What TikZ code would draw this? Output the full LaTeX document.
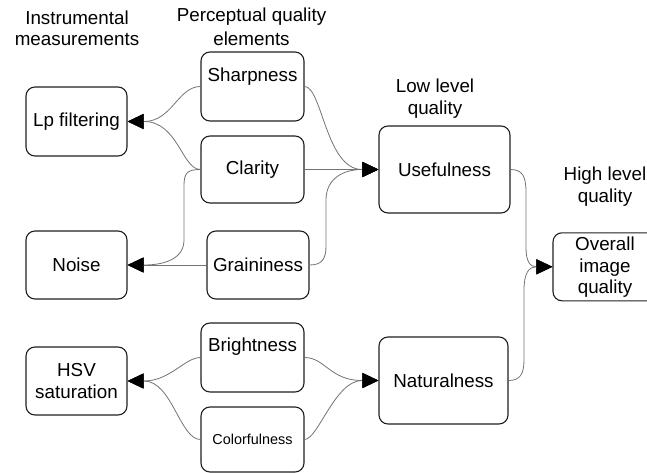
\documentclass[tikz,border=0pt]{standalone}
\usepackage{fontspec}
\setmainfont{Liberation Sans}
\usetikzlibrary{arrows.meta}
\begin{document}
\begin{tikzpicture}[x=1pt,y=-1pt,
  ff/.style={font=\fontsize{18.8}{21.5}\selectfont},
  box/.style={draw=black!88, line width=1.1pt, rounded corners=9pt, inner sep=0pt, align=center, ff},
  lbl/.style={inner sep=0pt, align=center, ff},
  conn/.style={draw=black!55, line width=0.8pt, -{Triangle[length=16pt,width=15pt,color=black]}},
  conn0/.style={draw=black!55, line width=0.8pt}
]
\useasboundingbox (0,0) rectangle (647,473);

% headers
\node[lbl, anchor=north] (h1) at (77,10.5) {Instrumental\\measurements};
\node[lbl, anchor=north] (h2) at (251.5,8) {Perceptual quality\\[2pt]elements};
\node[lbl, anchor=north] (h3) at (435,79) {Low level\\quality};
\node[lbl, anchor=north] (h4) at (605,167) {High level\\quality};

% instrumental
\node[box, minimum width=101pt, minimum height=69pt] (lp) at (76.5,121.5) {Lp filtering};
\node[box, minimum width=101pt, minimum height=68pt] (noise) at (76.5,265) {Noise};
\node[box, minimum width=101pt, minimum height=68pt] (hsv) at (76.5,381) {HSV\\saturation};

% perceptual
\node[box, minimum width=103pt, minimum height=69pt] (sharp) at (252.5,86.5) {};
\node[lbl, anchor=base] (sharpT) at (252.5,81.5) {Sharpness};
\node[box, minimum width=103pt, minimum height=67pt] (clar) at (252.5,169.5) {Clarity};
\node[box, minimum width=102pt, minimum height=68pt] (grain) at (258,265) {Graininess};
\node[box, minimum width=103pt, minimum height=69pt] (bright) at (252.5,357.5) {};
\node[lbl, anchor=base] (brightT) at (252.5,351) {Brightness};
\node[box, minimum width=103pt, minimum height=65pt, font=\fontsize{14.4}{17}\selectfont] (color) at (252.5,439.5) {Colorfulness};

% low level
\node[box, minimum width=131pt, minimum height=87pt] (use) at (444.5,169.5) {Usefulness};
\node[box, minimum width=129pt, minimum height=87pt] (nat) at (443.5,380.5) {Naturalness};

% high level
\node[box, minimum width=104pt, minimum height=68pt] (over) at (605,266.8) {};
\node[lbl, anchor=north] (overT) at (605,237) {Overall\\image\\quality};

% connectors to instrumental
\draw[conn] (sharp.west) .. controls (178,86.5) and (172,121.5) .. (144,121.5) -- (lp.east);
\draw[conn] (clar.west) .. controls (182,169.5) and (178,121.5) .. (144,121.5) -- (lp.east);
\draw[conn] (clar.west) .. controls (187,169.5) and (184,173) .. (184,186) -- (184,240)
  .. controls (184,258) and (166,265) .. (144,265) -- (noise.east);
\draw[conn] (grain.west) -- (noise.east);
\draw[conn] (bright.west) .. controls (185,357.5) and (170,381) .. (144,381) -- (hsv.east);
\draw[conn] (color.west) .. controls (180,439.5) and (172,381) .. (144,381) -- (hsv.east);

% connectors to low level
\draw[conn] (sharp.east) .. controls (322,86.5) and (326,169.5) .. (362,169.5) -- (use.west);
\draw[conn] (clar.east) -- (use.west);
\draw[conn] (grain.east) .. controls (322,265) and (326,259) .. (326,246) -- (326,200)
  .. controls (326,178) and (344,169.5) .. (362,169.5) -- (use.west);
\draw[conn] (bright.east) .. controls (325,357.5) and (330,380.5) .. (362,380.5) -- (nat.west);
\draw[conn] (color.east) .. controls (318,439.5) and (335,380.5) .. (362,380.5) -- (nat.west);

% connectors to high level
\draw[conn] (use.east) .. controls (522,169.5) and (526,176) .. (526,192) -- (526,248)
  .. controls (526,261) and (530,266.8) .. (536,266.8) -- (over.west);
\draw[conn] (nat.east) .. controls (520,380.5) and (524,374) .. (524,360) -- (524,290)
  .. controls (524,273) and (529,266.8) .. (536,266.8) -- (over.west);
\end{tikzpicture}
\end{document}
